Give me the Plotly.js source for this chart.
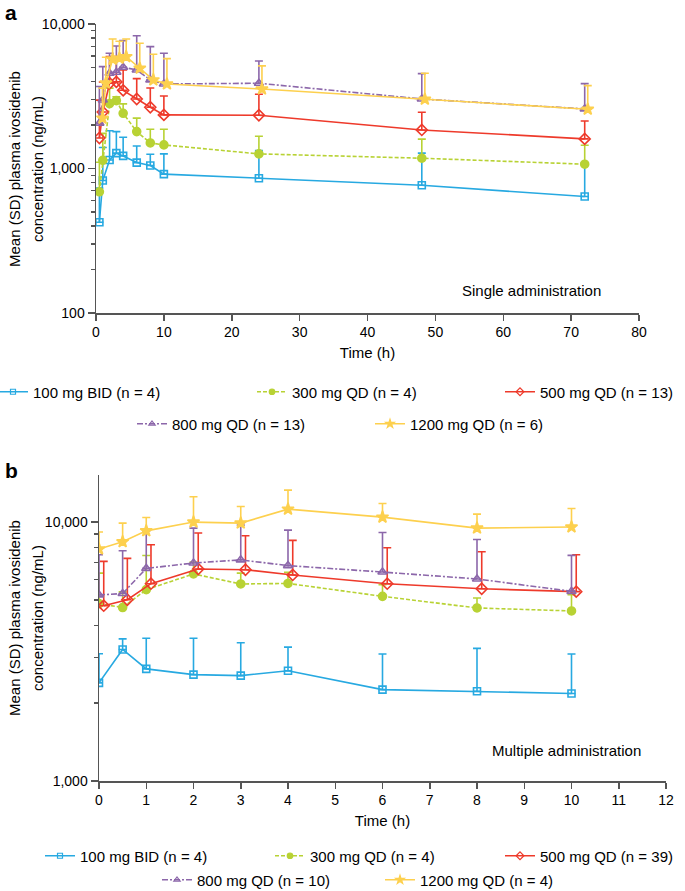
<!DOCTYPE html>
<html>
<head>
<meta charset="utf-8">
<script src="https://cdn.plot.ly/plotly-3.0.1.min.js"></script>
<style>html,body{margin:0;padding:0;background:#fff;}#chart{width:685px;height:891px;}</style>
</head>
<body>
<div id="chart"></div>
<script>
// ---------- DATA ----------
// Panel a: single administration
const timeA = [0.5, 1, 2, 3, 4, 6, 8, 10, 24, 48, 72];
const a100Mean  = [425, 825, 1146, 1277, 1222, 1099, 1048, 914, 857, 766, 640];
const a100SD    = [306, 572, 681, 523, 422, 333, 208, 348, 473, 511, 450];
const a300Mean  = [690, 1140, 2812, 2951, 2410, 1800, 1503, 1456, 1262, 1178, 1071];
const a300SD    = [415, 610, 788, 189, 390, 430, 368, 415, 409, 418, 378];
const a500Mean  = [1625, 2460, 3890, 3974, 3476, 3027, 2655, 2350, 2337, 1849, 1603];
const a500SD    = [1349, 1512, 2055, 1971, 1334, 1163, 951, 825, 928, 599, 530];
const a800Mean  = [2060, 2980, 4562, 4638, 5014, 4810, 4103, 3846, 3890, 3027, 2584];
const a800SD    = [1630, 2090, 1706, 2412, 2656, 3490, 2867, 2422, 1657, 1505, 1282];
const a1200Mean = [2230, 3900, 5700, 5795, 5945, 4940, 4103, 3846, 3548, 3015, 2570];
const a1200SD   = [1370, 1980, 2170, 1795, 1925, 2410, 2067, 1909, 1580, 1547, 1174];

// Panel b: multiple administration
const timeB = [0, 0.5, 1, 2, 3, 4, 6, 8, 10];
const b100Mean  = [2393, 3222, 2711, 2575, 2552, 2667, 2254, 2222, 2178];
const b100SD    = [707, 318, 848, 984, 868, 623, 838, 1030, 914];
const b300Mean  = [4842, 4677, 5483, 6306, 5767, 5795, 5166, 4659, 4537];
const b300SD    = [1511, 700, 1947, 700, 586, 600, 558, 434, 711];
const b500Mean  = [4754, 5011, 5781, 6590, 6546, 6250, 5781, 5526, 5386];
const b500SD    = [2296, 2229, 2389, 2480, 2304, 2250, 2179, 2154, 2094];
const b800Mean  = [5233, 5296, 6624, 6950, 7145, 6790, 6412, 6030, 5400];
const b800SD    = [2247, 2449, 2626, 2530, 2590, 2520, 2708, 2540, 2035];
const b1200Mean = [7870, 8395, 9250, 10000, 9910, 11220, 10450, 9480, 9570];
const b1200SD   = [1280, 1515, 1170, 2520, 1570, 2070, 1340, 1250, 1710];

const namesA = ['100 mg BID (n = 4)', '300 mg QD (n = 4)', '500 mg QD (n = 13)', '800 mg QD (n = 13)', '1200 mg QD (n = 6)'];
const namesB = ['100 mg BID (n = 4)', '300 mg QD (n = 4)', '500 mg QD (n = 39)', '800 mg QD (n = 10)', '1200 mg QD (n = 4)'];

const yTickValsA = [100, 1000, 10000];
const yTickTextA = ['100', '1,000', '10,000'];
const yTickValsB = [1000, 10000];
const yTickTextB = ['1,000', '10,000'];

// ---------- STYLE ----------
const FONT = 'Arial, "Liberation Sans", sans-serif';
const styles = [
  {color: '#27a9e1', symbol: 'square-open', size: 7, dash: 'solid'},
  {color: '#b8d234', symbol: 'circle', size: 8, dash: '4px,2px'},
  {color: '#ee3a2b', symbol: 'diamond-open', size: 8.5, dash: 'solid'},
  {color: '#8c67aa', symbol: 'triangle-up-open', size: 8, dash: '6px,2px,2px,2px'},
  {color: '#fdd04e', symbol: 'star', size: 9, dash: 'solid'}
];
// small horizontal dodge (in hours) used by the original figure
const dodgeA = [0, 0, 0, 0, 0.45];
const dodgeB = [0, 0, 0.1, 0, 0];

const W = 685, H = 891;
const px = v => v / W;
const py = v => 1 - v / H;

const seriesA = [[a100Mean, a100SD], [a300Mean, a300SD], [a500Mean, a500SD], [a800Mean, a800SD], [a1200Mean, a1200SD]];
const seriesB = [[b100Mean, b100SD], [b300Mean, b300SD], [b500Mean, b500SD], [b800Mean, b800SD], [b1200Mean, b1200SD]];

// legend placement (text start x, row y) per item
const legPosA = [[33, 392], [292, 392], [540, 392], [172, 424], [410, 424]];
const legPosB = [[80, 856], [310, 856], [540, 856], [197, 880], [420, 880]];

const traces = [];
const legendTraces = [];
const layout = {
  width: W, height: H,
  margin: {l: 0, r: 0, t: 0, b: 0, autoexpand: false},
  paper_bgcolor: '#fff', plot_bgcolor: '#fff',
  font: {family: FONT, size: 14, color: '#000'},
  showlegend: true,
  annotations: [],
  shapes: []
};

function addPanel(time, series, names, dodge, xa, ya, legPos, legOffset) {
  series.forEach((s, i) => {
    const st = styles[i];
    const legId = 'legend' + (legOffset + i === 1 ? '' : (legOffset + i));
    traces.push({
      type: 'scatter', mode: 'lines+markers',
      x: time.map(t => t + dodge[i]), y: s[0],
      name: names[i], showlegend: false,
      xaxis: xa, yaxis: ya,
      line: {color: st.color, width: 1.6, dash: st.dash},
      marker: {color: st.color, symbol: st.symbol, size: st.size, line: {color: st.color, width: 1.6}},
      error_y: {type: 'data', symmetric: false, array: s[1], arrayminus: s[1].map(() => 0),
                color: st.color, thickness: 1.6, width: 4}
    });
    // legend-only sample with smaller symbol, like the original key
    legendTraces.push({
      type: 'scatter', mode: 'lines+markers',
      x: [null], y: [null], name: names[i], showlegend: true,
      xaxis: xa, yaxis: ya, legend: legId,
      line: {color: st.color, width: 1.3, dash: st.dash},
      marker: {color: st.color, symbol: st.symbol, size: Math.max(5, st.size - 2.5), line: {color: st.color, width: 1.2}}
    });
    layout[legId] = {
      orientation: 'h', x: px(legPos[i][0] - 40), xanchor: 'left',
      y: py(legPos[i][1]), yanchor: 'middle',
      bgcolor: 'rgba(0,0,0,0)', borderwidth: 0,
      font: {family: FONT, size: 15, color: '#000'}
    };
  });
}

addPanel(timeA, seriesA, namesA, dodgeA, 'x', 'y', legPosA, 1);
addPanel(timeB, seriesB, namesB, dodgeB, 'x2', 'y2', legPosB, 6);

const axisCommon = {
  showgrid: false, zeroline: false, showline: true,
  linecolor: '#555', linewidth: 1.5,
  ticks: 'outside', tickcolor: '#555', tickwidth: 1.5,
  tickfont: {family: FONT, size: 14, color: '#000'},
  automargin: false
};

function minorLog(lo, hi) {
  const out = [];
  for (let d = lo; d < hi; d *= 10) for (let k = 2; k <= 9; k++) out.push(d * k);
  return out;
}

layout.xaxis = Object.assign({}, axisCommon, {
  domain: [px(96), px(639)], anchor: 'y', range: [0, 80], dtick: 10, tick0: 0, ticklen: 6,
  title: {text: 'Time (h)', font: {family: FONT, size: 15}, standoff: 8}
});
layout.yaxis = Object.assign({}, axisCommon, {
  domain: [py(313), py(24)], anchor: 'x', type: 'log', range: [2, 4],
  tickmode: 'array', tickvals: yTickValsA, ticktext: yTickTextA, ticklen: 7,
  minor: {tickmode: 'array', tickvals: minorLog(100, 10000), ticks: 'outside', ticklen: 4, tickcolor: '#555', tickwidth: 1.2, showgrid: false}
});
layout.xaxis2 = Object.assign({}, axisCommon, {
  domain: [px(99), px(666)], anchor: 'y2', range: [0, 12], dtick: 1, tick0: 0, ticklen: 6,
  title: {text: 'Time (h)', font: {family: FONT, size: 15}, standoff: 8}
});
layout.yaxis2 = Object.assign({}, axisCommon, {
  domain: [py(781), py(475)], anchor: 'x2', type: 'log', range: [3, Math.log10(15200)],
  tickmode: 'array', tickvals: yTickValsB, ticktext: yTickTextB, ticklen: 7,
  minor: {tickmode: 'array', tickvals: minorLog(1000, 10000), ticks: 'outside', ticklen: 4, tickcolor: '#555', tickwidth: 1.2, showgrid: false}
});

const ann = (text, x, y, extra) => Object.assign({
  text: text, xref: 'paper', yref: 'paper', x: px(x), y: py(y),
  xanchor: 'center', yanchor: 'middle', showarrow: false,
  font: {family: FONT, size: 15, color: '#000'}
}, extra || {});

layout.annotations.push(
  ann('<b>a</b>', 3, 12, {xanchor: 'left', font: {family: FONT, size: 21, color: '#000'}}),
  ann('<b>b</b>', 3, 470, {xanchor: 'left', font: {family: FONT, size: 21, color: '#000'}}),
  ann('Mean (SD) plasma ivosidenib', 14, 169, {textangle: -90}),
  ann('concentration (ng/mL)', 37, 169, {textangle: -90}),
  ann('Mean (SD) plasma ivosidenib', 14, 618, {textangle: -90}),
  ann('concentration (ng/mL)', 37, 618, {textangle: -90}),
  ann('Single administration', 531, 290),
  ann('Multiple administration', 566, 750)
);

Plotly.newPlot('chart', traces.concat(legendTraces), layout, {displayModeBar: false, staticPlot: true});
</script>
</body>
</html>
